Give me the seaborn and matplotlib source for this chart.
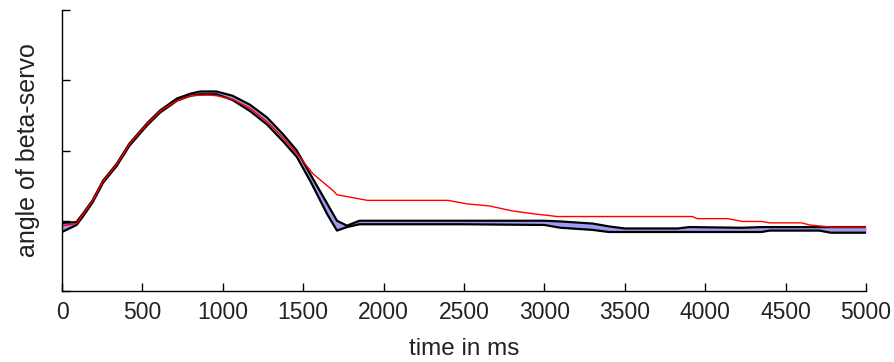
import numpy as np
import matplotlib
matplotlib.use("Agg")
import matplotlib.pyplot as plt
import seaborn as sns

# time axis (ms) shared by the upper / lower envelope
t_band = [0, 90, 130, 190, 255, 340, 420, 530, 610, 715, 800, 860, 960, 1060, 1170,
          1275, 1375, 1460, 1550, 1650, 1710, 1772, 1850, 2500, 3000, 3100, 3300, 3400,
          3500, 3830, 3900, 4230, 4350, 4400, 4710, 4780, 5000]
upper = [9.7, 9.8, 11.0, 12.9, 15.7, 18.1, 21.0, 23.9, 25.7, 27.4, 28.1, 28.4, 28.4, 27.8, 26.5,
         24.7, 22.3, 20.0, 16.4, 12.4, 10.0, 9.3, 10.0, 10.0, 10.0, 9.9, 9.6, 9.2,
         8.9, 8.9, 9.1, 9.0, 9.1, 9.1, 9.1, 9.1, 9.1]
lower = [8.4, 9.4, 10.6, 12.6, 15.4, 17.8, 20.7, 23.6, 25.4, 27.1, 27.8, 28.0, 28.0, 27.2, 25.6,
         23.7, 21.3, 19.1, 15.4, 10.9, 8.6, 9.1, 9.5, 9.5, 9.4, 9.0, 8.7, 8.4,
         8.4, 8.4, 8.4, 8.4, 8.4, 8.6, 8.6, 8.3, 8.3]

# red reference curve
t_red = [0, 90, 130, 190, 255, 340, 420, 530, 610, 715, 800, 900, 960, 1060, 1170, 1275,
         1375, 1460, 1560, 1685, 1710, 1900, 2180, 2400, 2520, 2660, 2800, 2930, 3080,
         3920, 3950, 4140, 4230, 4350, 4400, 4600, 4650, 4780, 5000]
red = [9.3, 9.6, 10.9, 12.8, 15.6, 18.0, 20.9, 23.8, 25.6, 27.1, 27.8, 27.9, 27.8, 27.3, 26.0, 24.1,
       21.8, 19.6, 16.7, 14.3, 13.7, 12.9, 12.9, 12.9, 12.4, 12.1, 11.4, 11.0, 10.6,
       10.6, 10.3, 10.3, 9.9, 9.9, 9.7, 9.7, 9.4, 9.1, 9.1]

x_ticks = list(range(0, 5001, 500))
y_ticks = [0, 10, 20, 30, 40]

sns.set_style("ticks")
plt.rcParams['font.family'] = ['Liberation Sans', 'DejaVu Sans']

fig = plt.figure(figsize=(8.94, 3.62), dpi=100)
ax = fig.add_axes([62 / 894, 71 / 362, 804 / 894, 281 / 362])

ax.fill_between(t_band, lower, upper, color='#9c9cf0', linewidth=0)
sns.lineplot(x=t_band, y=upper, color='black', linewidth=1.6, ax=ax)
sns.lineplot(x=t_band, y=lower, color='black', linewidth=1.6, ax=ax)
sns.lineplot(x=t_red, y=red, color='red', linewidth=1.0, ax=ax)

ax.set_xlim(0, 5000)
ax.set_ylim(0, 40)
ax.set_xticks(x_ticks)
ax.set_yticks(y_ticks)
ax.set_yticklabels([])
ax.tick_params(direction='in', length=6, width=1.0, labelsize=16.5, pad=7,
               colors='black', labelcolor='#222222')
sns.despine(ax=ax)
for s in ['left', 'bottom']:
    ax.spines[s].set_linewidth(1.0)
    ax.spines[s].set_color('black')

ax.set_xlabel('time in ms', fontsize=17.5, labelpad=10, color='#222222')
ax.set_ylabel('angle of beta-servo', fontsize=18, labelpad=9, color='#222222')

fig.savefig('out.png', dpi=100)
